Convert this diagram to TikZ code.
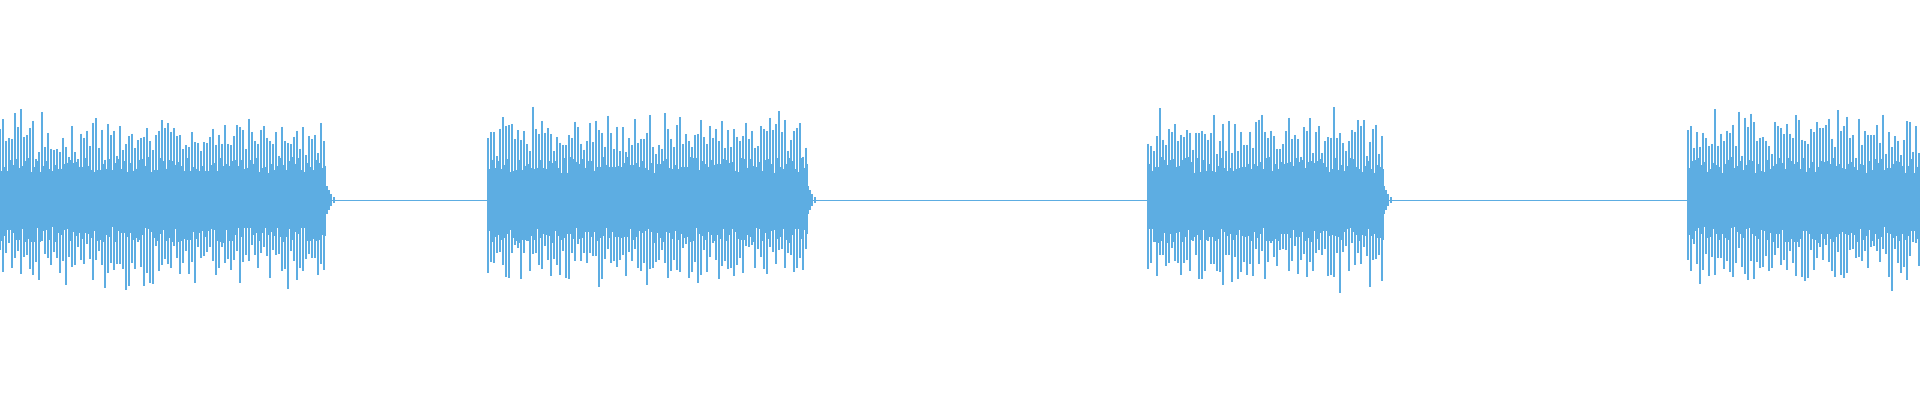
\documentclass[tikz,border=0pt]{standalone}
\begin{document}
\begin{tikzpicture}[x=1pt,y=-1pt,wave/.style={draw=wv,line width=1.2pt}]
\definecolor{wv}{HTML}{5DADE2}
\useasboundingbox (0,0) rectangle (1920,400);
\pgfmathsetseed{7}
\draw[wv,line width=0.6pt] (0,200) -- (1920,200);
\foreach \s/\e in {0/325,488/806,1148/1382,1688/1920}{
  \fill[wv] (\s,175) rectangle (\e,225);
  \pgfmathtruncatemacro\n{(\e-\s)/3}
  \foreach \i in {0,...,\n}{
    \pgfmathsetmacro\xx{\s+3*\i}
    \pgfmathsetmacro\a{40+35*rnd+20*rnd^2}
    \pgfmathsetmacro\b{40+35*rnd+20*rnd^2}
    \draw[wave] (\xx,200-\a) -- (\xx,200+\b);
    \pgfmathsetmacro\c{27+16*rnd}
    \pgfmathsetmacro\d{27+16*rnd}
    \draw[wave] (\xx+1.5,200-\c) -- (\xx+1.5,200+\d);
  }
  \ifnum\e<1900
  \draw[wave] (\e+2,186) -- (\e+2,214);
  \draw[wave] (\e+4,190) -- (\e+4,210);
  \draw[wave] (\e+6,194) -- (\e+6,206);
  \draw[wave] (\e+9,197) -- (\e+9,203);
  \fi
}
\end{tikzpicture}
\end{document}
